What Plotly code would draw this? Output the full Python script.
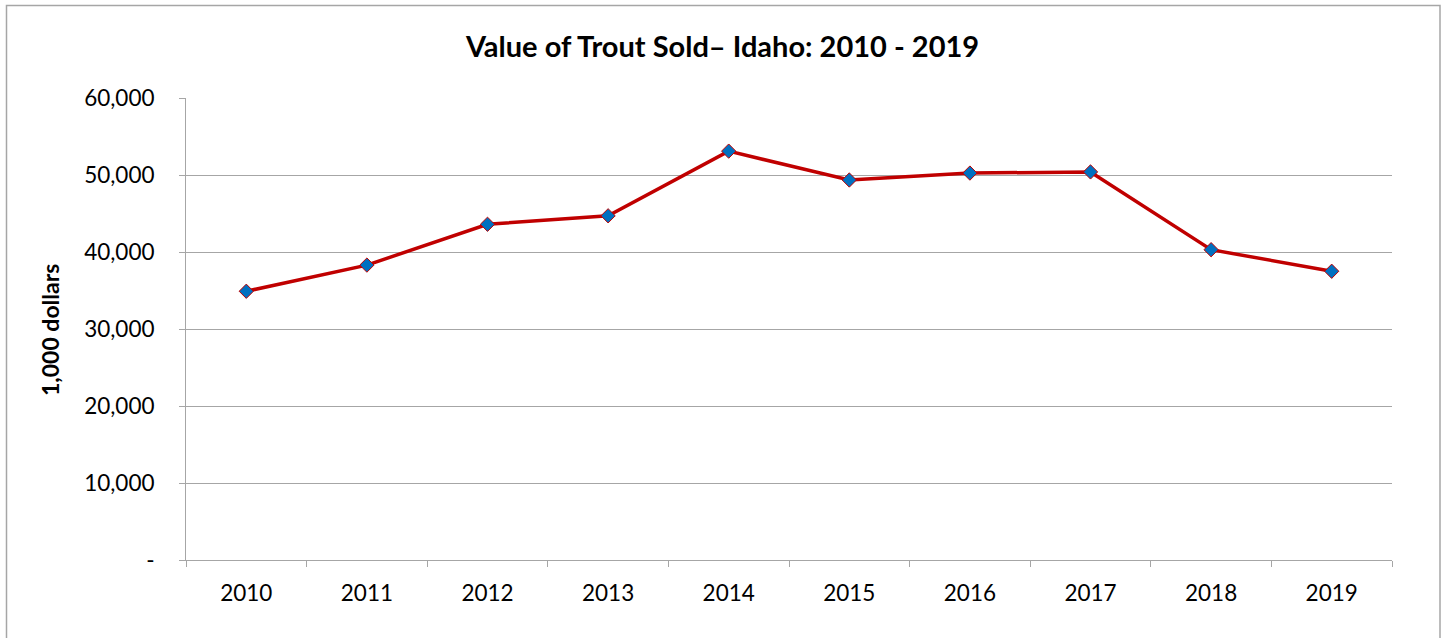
import plotly.graph_objects as go

years = ["2010", "2011", "2012", "2013", "2014", "2015", "2016", "2017", "2018", "2019"]
values = [34900, 38300, 43600, 44700, 53100, 49350, 50250, 50400, 40300, 37500]
y_tickvals = [0, 10000, 20000, 30000, 40000, 50000, 60000]
y_ticktext = ["-", "10,000", "20,000", "30,000", "40,000", "50,000", "60,000"]

W, H = 1445, 638
L, R, T, B = 186, 53, 98, 78
pw, ph = W - L - R, H - T - B

def px(x):
    return (x - L) / pw

def py(y):
    return (H - B - y) / ph

FONT = "Lato"

fig = go.Figure()
fig.add_trace(go.Scatter(
    x=years, y=values, mode="lines+markers",
    line=dict(color="#C00000", width=3.5),
    marker=dict(symbol="diamond", size=11, color="#0070C0",
                line=dict(color="#C00000", width=1)),
    showlegend=False,
))

fig.update_layout(
    width=W, height=H,
    margin=dict(l=L, r=R, t=T, b=B, autoexpand=False),
    paper_bgcolor="white", plot_bgcolor="white",
    font=dict(family=FONT, color="black"),
    title=dict(text="<b>Value of Trout Sold– Idaho: 2010 - 2019</b>",
               x=0.5, xanchor="center", y=1 - 47 / H, yanchor="middle",
               font=dict(family=FONT, size=29, color="black")),
    xaxis=dict(type="category", range=[-0.5, 9.5], tickson="boundaries",
               ticks="outside", ticklen=6, tickcolor="#A6A6A6", showline=True,
               linecolor="#A6A6A6", linewidth=1, showgrid=False,
               tickfont=dict(family=FONT, size=22.5), ticklabelstandoff=13,
               automargin=False, fixedrange=True),
    yaxis=dict(range=[0, 60000], tickvals=y_tickvals, ticktext=y_ticktext,
               ticks="outside", ticklen=6, tickcolor="#A6A6A6",
               showline=True, linecolor="#A6A6A6", linewidth=1,
               showgrid=True, gridcolor="#A6A6A6", gridwidth=1,
               zeroline=False, tickfont=dict(family=FONT, size=22.5),
               ticklabelstandoff=20, automargin=False, fixedrange=True),
)

fig.add_annotation(text="<b>1,000 dollars</b>", textangle=-90,
                   x=px(50), y=py(330), xref="paper", yref="paper",
                   xanchor="center", yanchor="middle", showarrow=False,
                   font=dict(family=FONT, size=23, color="black"))

fig.add_shape(type="rect", xref="paper", yref="paper",
              x0=px(6.5), x1=px(1440), y0=py(5.5), y1=py(645),
              line=dict(color="#A6A6A6", width=1.5), layer="below")

fig.write_html("out.html")
